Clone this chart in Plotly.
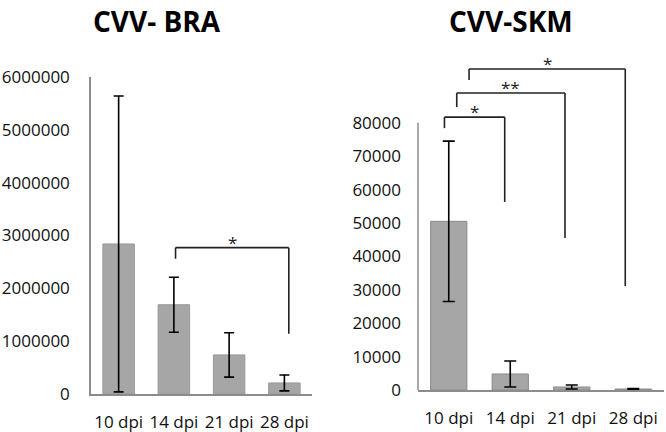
import plotly.graph_objects as go

# data
days = ["10 dpi", "14 dpi", "21 dpi", "28 dpi"]
bra_mean = [2840000, 1690000, 740000, 210000]
bra_err = [2800000, 520000, 420000, 150000]
skm_mean = [50500, 4800, 900, 300]
skm_err = [24000, 3900, 600, 120]

bra_ticks = [0, 1000000, 2000000, 3000000, 4000000, 5000000, 6000000]
skm_ticks = [0, 10000, 20000, 30000, 40000, 50000, 60000, 70000, 80000]

# significance brackets: (from idx, to idx, bar height, left end, right end, label)
bra_brackets = [(1.03, 3.08, 2770000, 2560000, 1140000, "*")]
skm_brackets = [
    (-0.07, 0.91, 81700, 78400, 56300, "*"),
    (0.13, 1.89, 88900, 84700, 45500, "**"),
    (0.33, 2.87, 96100, 92800, 31100, "*"),
]

BAR = "#A6A6A6"
AXIS = "#8C8C8C"
FONT = "Open Sans"

fig = go.Figure()
fig.add_trace(go.Bar(
    x=days, y=bra_mean, xaxis="x", yaxis="y",
    marker=dict(color=BAR, line=dict(color="#9A9A9A", width=1)),
    error_y=dict(type="data", array=bra_err, color="black", thickness=1.6, width=5),
    showlegend=False,
))
fig.add_trace(go.Bar(
    x=days, y=skm_mean, xaxis="x2", yaxis="y2", width=0.59,
    marker=dict(color=BAR, line=dict(color="#8A8A8A", width=1)),
    error_y=dict(type="data", array=skm_err, color="black", thickness=1.6, width=6),
    showlegend=False,
))

shapes = []
annotations = []


def add_brackets(brackets, xr, yr):
    for x0, x1, h, l_end, r_end, lab in brackets:
        for (a, b, c, d) in [(x0, h, x1, h), (x0, l_end, x0, h), (x1, r_end, x1, h)]:
            shapes.append(dict(type="line", xref=xr, yref=yr, x0=a, y0=b, x1=c, y1=d,
                               line=dict(color="#222222", width=1.6)))
        annotations.append(dict(xref=xr, yref=yr, x=(x0 + x1) / 2, y=h, text=lab,
                                showarrow=False, xanchor="center", yanchor="bottom", yshift=-8,
                                font=dict(family=FONT, size=17, color="#222222")))


add_brackets(bra_brackets, "x", "y")
add_brackets(skm_brackets, "x2", "y2")

# right y-axis line only up to the top tick
shapes.append(dict(type="line", xref="x2 domain", yref="y2", x0=0, x1=0, y0=0, y1=80000,
                   line=dict(color=AXIS, width=1.5)))

for title, cx in [("CVV- BRA", 157), ("CVV-SKM", 511)]:
    annotations.append(dict(xref="paper", yref="paper", x=cx / 666, y=1,
                            text="<b>" + title + "</b>", showarrow=False,
                            xanchor="center", yanchor="top",
                            font=dict(family=FONT, size=28, color="black")))

tickfont = dict(family=FONT, size=17, color="#111111")
fig.update_layout(
    width=666, height=432,
    margin=dict(l=0, r=0, t=0, b=0, pad=0),
    paper_bgcolor="white", plot_bgcolor="white",
    bargap=0.43,
    xaxis=dict(domain=[91 / 666, 312 / 666], anchor="y", type="category", range=[-0.5, 3.5],
               showline=True, linecolor=AXIS, linewidth=1.5, showgrid=False, ticks="",
               tickfont=tickfont, ticklabelstandoff=12, automargin=False),
    yaxis=dict(domain=[1 - 394 / 432, 1 - 77 / 432], anchor="x", range=[0, 6000000],
               tickvals=bra_ticks, ticktext=[str(v) for v in bra_ticks],
               showline=True, linecolor=AXIS, linewidth=1.5, showgrid=False, zeroline=False,
               ticks="", tickfont=tickfont, ticklabelstandoff=16, automargin=False),
    xaxis2=dict(domain=[418 / 666, 664 / 666], anchor="y2", type="category", range=[-0.5, 3.5],
                showline=True, linecolor=AXIS, linewidth=1.5, showgrid=False, ticks="",
                tickfont=tickfont, ticklabelstandoff=12, automargin=False),
    yaxis2=dict(domain=[1 - 390 / 432, 1 - 56 / 432], anchor="x2", range=[0, 100000],
                tickvals=skm_ticks, ticktext=[str(v) for v in skm_ticks],
                showline=False, showgrid=False, zeroline=False,
                ticks="", tickfont=tickfont, ticklabelstandoff=16, automargin=False),
    shapes=shapes,
    annotations=annotations,
)

# page body has a default 8px margin; drop it so the figure fills the window
fig.write_html("out.html", config={"displayModeBar": False},
               post_script="document.body.style.margin='0';")
